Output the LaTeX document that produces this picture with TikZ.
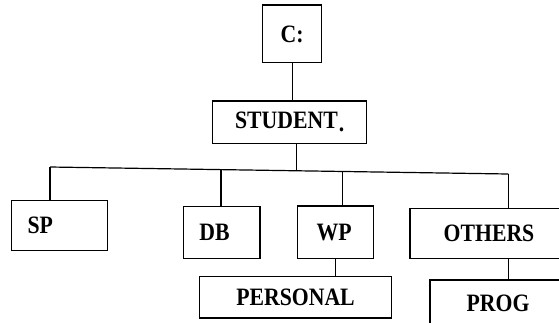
\documentclass[tikz,border=0pt]{standalone}
\usepackage{fontspec}
\setmainfont{Liberation Serif}[FakeStretch=0.87]
\begin{document}
\begin{tikzpicture}[x=1pt,y=-1pt,
  box/.style={draw,line width=1.2pt,inner sep=0pt,font=\fontsize{25}{28}\selectfont\bfseries,anchor=center},
  conn/.style={line width=1.2pt}]
\useasboundingbox (0,0) rectangle (559,322);
\clip (0,0) rectangle (559,322);
\node[box,minimum width=59pt,minimum height=57.7pt] (c) at (292.2,33.9) {C:};
\node[box,minimum width=154pt,minimum height=42.3pt] (student) at (289.7,122.2) {STUDENT\kern1pt\raisebox{-3pt}{.}};
\node[box,minimum width=95.6pt,minimum height=50pt,text width=64pt,inner xsep=15.8pt,align=left] (sp) at (59.5,225.7) {SP};
\node[box,minimum width=76.7pt,minimum height=51.6pt,text width=44.7pt,inner xsep=16pt,align=left] (db) at (221.7,232.5) {DB};
\node[box,minimum width=75.6pt,minimum height=52.3pt,text width=37.6pt,inner xsep=19pt,align=left] (wp) at (335.5,232.2) {WP};
\node[box,minimum width=158pt,minimum height=50pt] (others) at (489,233.3) {OTHERS};
\node[box,minimum width=192.4pt,minimum height=41.3pt] (personal) at (295.5,297.3) {PERSONAL};
\node[box,minimum width=136pt,minimum height=46pt] (prog) at (498,303) {PROG};
\coordinate (xsp) at (50,167);
\coordinate (xdb) at (221,169.6);
\coordinate (js) at (296.5,170.8);
\coordinate (xwp) at (342.7,171.5);
\coordinate (xoth) at (508.3,174);
\draw[conn] (c.south) -- (student.north -| c.south);
\draw[conn] (student.south -| js) -- (js);
\draw[conn] (xsp) -- (xoth);
\draw[conn] (xsp) -- (xsp |- sp.north);
\draw[conn] (xdb) -- (xdb |- db.north);
\draw[conn] (xwp) -- (xwp |- wp.north);
\draw[conn] (xoth) -- (xoth |- others.north);
\draw[conn] (personal.north -| wp.south) -- (wp.south);
\draw[conn] (others.south -| xoth) -- (prog.north -| xoth);
\end{tikzpicture}
\end{document}
